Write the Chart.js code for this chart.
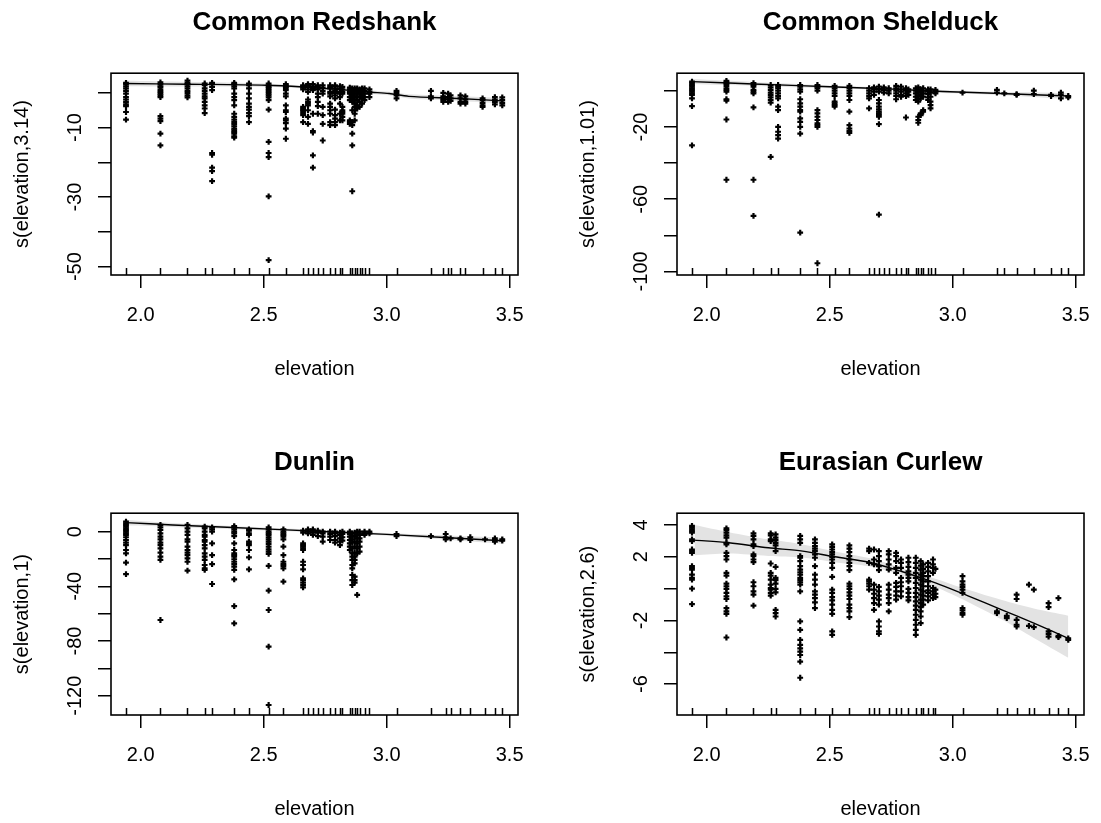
<!DOCTYPE html>
<html><head><meta charset="utf-8">
<script src="https://cdn.jsdelivr.net/npm/chart.js@4.4.1/dist/chart.umd.min.js"></script>
<style>
html,body{margin:0;padding:0;background:#fff;overflow:hidden;}
#wrap{position:relative;width:1101px;height:823px;overflow:hidden;background:#fff;}
#wrap canvas{position:absolute;}
</style></head><body><div id="wrap">
<canvas id="c1" width="550" height="440" style="left:0;top:0"></canvas>
<canvas id="c2" width="550" height="440" style="left:566px;top:0"></canvas>
<canvas id="c3" width="550" height="440" style="left:0;top:440px"></canvas>
<canvas id="c4" width="550" height="440" style="left:566px;top:440px"></canvas>
</div>
<script>
// ---------- shared ----------
const xTicks = [2.0, 2.5, 3.0, 3.5];
const xLabel = 'elevation';

// ---------- Common Redshank ----------
const redshankTitle = 'Common Redshank';
const redshankYLabel = 's(elevation,3.14)';
const redshankYTicks = [0, -10, -20, -30, -40, -50];
const redshankYLabelled = [-10, -30, -50];
const redshankPoints = [
  [1.94, [2.9, 2.5, 1.9, 1.3, 0.6, -0.2, -1.2, -1.9, -2.6, -3.3, -3.8, -5.5, -7.7]],
  [2.08, [3.0, 2.5, 1.9, 1.5, 0.8, 0.3, -0.2, -0.7, -1.2, -6.7, -7.4, -8.1, -11.7, -15.1]],
  [2.19, [3.5, 2.9, 2.5, 1.9, 1.3, 0.6, 0.0, -0.7, -1.3]],
  [2.26, [2.7, 2.2, 1.3, 0.6, -0.2, -1.0, -1.6, -2.6, -3.6, -4.5, -5.8]],
  [2.29, [2.9, 2.5, 1.7, 0.8, -17.3, -17.8, -21.5, -22.5, -25.4]],
  [2.38, [2.9, 2.5, 1.9, 1.3, -0.2, -1.2, -2.1, -3.6, -6.0, -6.9, -7.7, -8.4, -9.0, -9.6, -10.3, -10.8, -11.3, -11.7, -12.5, -12.9]],
  [2.44, [2.7, 2.2, 1.3, -0.2, -1.6, -3.1, -4.0, -4.8, -5.8, -6.7, -8.4]],
  [2.52, [2.7, 2.2, 1.7, 1.3, 0.8, 0.3, -0.2, -0.7, -1.3, -2.1, -4.8, -14.1, -17.3, -18.5, -29.8, -48.1]],
  [2.59, [2.5, 2.1, 1.7, 1.3, 0.8, -0.2, -1.0, -3.6, -5.0, -5.5, -7.4, -7.9, -8.7, -10.3, -13.2]],
  [2.66, [2.2, 1.9, 1.5, 1.0, -4.0, -4.5, -4.8, -5.2, -5.8, -6.4, -8.4]],
  [2.68, [2.5, 2.2, 1.7, 1.0, 0.3, -1.9, -2.6, -3.1, -3.6, -5.0, -6.9, -8.9]],
  [2.70, [2.5, 1.9, 1.3, 0.8, -6.0, -11.0, -11.4, -18.0, -21.5]],
  [2.72, [2.2, 1.7, 1.0, -0.2, -1.2, -2.6, -3.8, -6.0]],
  [2.74, [2.2, 1.5, 0.6, -0.2, -4.0, -6.4, -8.9, -13.7]],
  [2.77, [2.2, 1.7, 1.3, 0.3, -0.2, -1.0, -3.1, -4.0, -5.0, -6.0, -8.4, -9.3]],
  [2.79, [2.2, 1.9, 1.3, 0.6, 0.0, -0.7, -1.6, -4.8, -6.4, -7.4, -8.4, -9.3]],
  [2.81, [1.9, 1.3, 0.3, -0.2, -1.2, -3.1, -6.0, -7.9]],
  [2.82, [1.7, 1.0, 0.3, -0.2, -4.0, -5.0, -5.5, -6.0, -6.9, -7.9]],
  [2.85, [1.5, 1.0, 0.3, -0.2, -1.2, -2.1, -7.9, -8.4, -8.9]],
  [2.86, [1.3, 0.8, 0.3, -0.2, -0.7, -1.6, -2.6, -5.0, -8.4, -9.3, -11.7, -15.1, -28.3]],
  [2.87, [1.3, 0.8, -0.2, -1.2, -2.1, -3.1, -4.0, -5.0, -6.0, -7.9]],
  [2.88, [1.3, 0.6, -0.2, -1.0, -2.1, -3.6, -4.5]],
  [2.89, [1.0, 0.3, -0.2, -1.2, -2.6, -4.0]],
  [2.90, [1.3, 0.8, 0.0, -0.7, -1.6, -3.1]],
  [2.91, [1.3, 0.6, -0.2, -1.2, -2.1]],
  [2.93, [1.0, 0.3, -0.2, -1.2]],
  [3.04, [0.6, 0.0, -0.7, -1.6]],
  [3.18, [0.6, -1.0, -1.6]],
  [3.23, [0.0, -1.0, -1.6, -2.1, -2.6]],
  [3.25, [-0.2, -1.2, -1.9, -2.6]],
  [3.26, [-0.7, -1.6, -2.3]],
  [3.30, [-0.7, -1.6, -2.6, -3.1]],
  [3.32, [-1.0, -1.9, -2.6, -3.1]],
  [3.39, [-1.6, -2.1, -2.9, -3.6, -4.0]],
  [3.44, [-1.2, -1.9, -2.6, -3.3]],
  [3.47, [-1.3, -2.1, -2.9, -3.6]]
];
const redshankFitX = [1.94, 2.19, 2.51, 2.66, 2.80, 2.94, 3.01, 3.09, 3.29, 3.47];
const redshankFitY = [2.7, 2.5, 2.2, 1.7, 1.0, 0.2, -0.2, -1.0, -1.6, -2.3];
const redshankBandUpper = [3.5, 3.2, 2.7, 2.1, 1.4, 0.7, 0.3, -0.4, -0.9, -1.5];
const redshankBandLower = [1.9, 1.8, 1.7, 1.3, 0.6, -0.3, -0.7, -1.6, -2.3, -3.1];

// ---------- Common Shelduck ----------
const shelduckTitle = 'Common Shelduck';
const shelduckYLabel = 's(elevation,1.01)';
const shelduckYTicks = [0, -20, -40, -60, -80, -100];
const shelduckYLabelled = [-20, -60, -100];
const shelduckPoints = [
  [1.94, [5.2, 4.3, 3.3, 2.4, 1.5, 0.6, -0.4, -1.3, -2.2, -4.1, -8.4, -30.1]],
  [2.08, [5.6, 4.6, 3.9, 2.8, 1.5, 0.6, -0.4, -4.6, -5.4, -15.8, -49.2]],
  [2.19, [4.3, 3.3, 2.4, 0.6, -0.4, -1.3, -9.1, -49.2, -69.2]],
  [2.26, [3.3, 2.0, 0.6, -0.9, -2.2, -3.5, -5.0, -6.5, -36.5]],
  [2.29, [3.3, 2.4, 1.5, 0.2, -1.3, -2.8, -4.1, -8.7, -10.6, -19.9, -22.6, -24.5, -26.4]],
  [2.38, [3.3, 2.4, 0.9, -0.4, -4.6, -6.9, -8.7, -10.6, -11.5, -15.2, -17.1, -19.9, -23.6, -78.5]],
  [2.45, [3.3, 2.4, 1.5, 0.2, -10.6, -12.4, -14.3, -16.1, -18.0, -18.9, -19.9, -95.5]],
  [2.52, [2.8, 1.5, 0.2, -1.3, -2.8, -5.9, -6.9, -7.8, -8.7]],
  [2.58, [2.8, 1.5, 0.2, -1.3, -2.8, -5.0, -11.5, -18.9, -20.8, -22.1, -23.2]],
  [2.66, [1.5, 0.2, -1.3, -2.8, -4.1, -9.7]],
  [2.68, [2.0, 0.9, -0.4, -2.2]],
  [2.70, [2.4, 0.9, -0.4, -5.0, -6.9, -8.7, -10.2, -11.5, -12.4, -13.4, -14.3, -18.4, -68.5]],
  [2.72, [2.0, 0.6, -0.9]],
  [2.74, [1.5, 0.2, -1.3]],
  [2.77, [2.8, 1.5, 0.2, -1.3, -2.8, -4.6]],
  [2.79, [2.4, 0.9, -0.4, -2.2, -3.2]],
  [2.81, [1.5, 0.2, -1.3, -2.8, -14.7]],
  [2.82, [0.9, -0.4, -2.2]],
  [2.85, [1.5, 0.2, -1.3, -3.2, -5.0]],
  [2.86, [2.0, 0.6, -0.9, -2.8, -4.6, -5.9, -14.3, -16.1, -17.6]],
  [2.87, [0.9, -0.4, -2.2, -4.1, -12.4, -13.4]],
  [2.88, [1.5, 0.2, -1.3, -3.2, -10.6, -11.5]],
  [2.90, [0.9, -0.4, -1.7, -3.5, -5.0]],
  [2.91, [0.9, -0.9, -3.2, -5.9, -7.8, -9.7]],
  [2.93, [0.6, -0.4, -1.3]],
  [3.04, [-0.9]],
  [3.18, [0.6, -0.9]],
  [3.21, [-1.3]],
  [3.26, [-1.7, -2.2]],
  [3.33, [0.2, -1.7]],
  [3.40, [-2.2, -2.8]],
  [3.44, [-0.9, -2.2, -4.1]],
  [3.47, [-2.8, -3.5]]
];
const shelduckFitX = [1.94, 2.19, 2.50, 2.78, 2.96, 3.14, 3.47];
const shelduckFitY = [5.2, 3.9, 2.3, 0.9, -0.3, -1.1, -2.8];
const shelduckBandUpper = [6.6, 5.0, 3.1, 1.6, 0.5, -0.3, -1.2];
const shelduckBandLower = [3.8, 2.8, 1.5, 0.2, -1.1, -1.9, -4.4];

// ---------- Dunlin ----------
const dunlinTitle = 'Dunlin';
const dunlinYLabel = 's(elevation,1)';
const dunlinYTicks = [0, -20, -40, -60, -80, -100, -120];
const dunlinYLabelled = [0, -40, -80, -120];
const dunlinPoints = [
  [1.94, [7.3, 6.1, 4.9, 3.7, 2.4, 1.2, 0.0, -1.2, -2.4, -4.1, -6.1, -8.0, -9.8, -13.4, -15.9, -22.7, -31.0]],
  [2.08, [4.9, 3.2, 1.2, -1.2, -3.7, -5.6, -8.0, -9.8, -12.2, -15.4, -18.3, -20.7, -64.6]],
  [2.19, [4.9, 2.4, 0.0, -2.4, -5.6, -7.3, -11.0, -13.4, -15.4, -17.1, -19.5, -22.0, -28.5]],
  [2.26, [3.7, 2.4, 0.0, -2.4, -3.7, -6.1, -7.3, -9.8, -12.2, -15.9, -18.3, -20.7, -24.4, -26.8, -28.0]],
  [2.29, [3.2, 1.7, 0.0, -8.5, -17.1, -23.7, -38.3]],
  [2.38, [4.1, 3.2, 1.7, 0.0, -1.2, -3.2, -8.5, -13.4, -15.9, -17.1, -18.3, -20.2, -22.0, -23.7, -25.6, -28.0, -34.9, -54.4, -67.1]],
  [2.44, [1.7, 0.7, -1.2, -2.4, -7.3, -8.5, -9.8, -13.4, -18.8, -27.6]],
  [2.52, [3.2, 1.7, 0.0, -1.2, -2.4, -4.1, -5.6, -7.3, -9.0, -11.0, -12.9, -14.6, -16.3, -25.1, -43.2, -57.3, -84.1, -126.8]],
  [2.58, [1.7, 0.0, -1.2, -2.4, -3.7, -5.6, -11.0, -17.1, -22.0, -23.7, -25.1, -26.8, -36.6]],
  [2.66, [0.7, -0.7, -8.5, -9.8, -11.0, -12.2, -13.4, -22.0, -24.4, -27.6, -34.1, -35.4, -37.3, -39.0, -40.7]],
  [2.68, [1.7, 0.0, -1.2]],
  [2.70, [1.7, 0.7, -0.7, -2.4]],
  [2.72, [0.7, -0.7, -3.2]],
  [2.74, [0.0, -1.2, -3.7, -7.3]],
  [2.77, [0.0, -1.7, -3.7, -6.1]],
  [2.79, [0.0, -1.2, -3.2, -6.1, -8.0]],
  [2.81, [-0.7, -2.4, -4.9, -7.3, -9.8]],
  [2.82, [0.0, -1.7, -4.1, -6.6]],
  [2.85, [0.0, -1.7, -3.7, -6.1, -8.5, -11.0, -13.4]],
  [2.86, [-1.2, -3.2, -5.6, -8.0, -12.2, -15.9, -18.3, -20.7, -24.4, -26.8, -31.7, -35.4, -39.0]],
  [2.87, [-0.7, -3.7, -7.3, -11.0, -15.4, -18.3, -20.7, -23.2, -32.9, -35.4, -37.3]],
  [2.88, [0.0, -2.4, -4.9, -8.5, -12.2, -15.9, -46.3]],
  [2.89, [0.0, -2.4, -4.9, -7.3, -11.0, -14.6]],
  [2.91, [0.0, -1.2, -2.4]],
  [2.93, [0.0, -1.2]],
  [3.04, [-1.7, -3.2]],
  [3.18, [-3.2]],
  [3.24, [-1.7, -4.1, -5.6]],
  [3.26, [-4.9]],
  [3.30, [-4.9, -5.6]],
  [3.34, [-4.1, -6.1]],
  [3.40, [-5.6]],
  [3.44, [-4.9, -6.1, -7.3]],
  [3.47, [-5.6, -6.6]]
];
const dunlinFitX = [1.94, 2.13, 2.57, 3.00, 3.47];
const dunlinFitY = [6.6, 4.9, 1.5, -2.0, -6.6];
const dunlinBandUpper = [8.6, 6.4, 2.5, -1.0, -4.4];
const dunlinBandLower = [4.6, 3.4, 0.5, -3.0, -8.8];

// ---------- Eurasian Curlew ----------
const curlewTitle = 'Eurasian Curlew';
const curlewYLabel = 's(elevation,2.6)';
const curlewYTicks = [4, 2, 0, -2, -4, -6];
const curlewYLabelled = [4, 2, -2, -6];
const curlewPoints = [
  [1.94, [3.94, 3.83, 3.73, 3.62, 3.52, 3.09, 2.99, 2.46, 2.36, 2.25, 1.41, 1.31, 1.2, 0.88, 0.67, 0.57, 0, -0.97]],
  [2.08, [3.79, 3.68, 3.52, 3.35, 3.2, 2.88, 2.78, 2.25, 2.04, 1.83, 0.99, 0.82, 0.32, 0.15, -0.02, -0.27, -0.48, -0.65, -1.22, -1.43, -1.58, -3.07]],
  [2.19, [3.47, 3.31, 3.09, 2.78, 2.67, 2.15, 2.04, 1.83, 1.66, 0.4, 0.15, -0.17, -0.38, -1.07]],
  [2.26, [3.47, 3.35, 3.09, 2.99, 1.58, 0.99, 0.82, 0.57, 0.25, 0.04, -0.06, -0.27, -0.44]],
  [2.28, [3.41, 3.2, 3.05, 2.88, 2.72, 2.36, 1.37, 0.67, 0.53, 0.32, -0.02, -0.23, -1.33, -1.54, -1.75]],
  [2.38, [3.31, 3.09, 2.88, 2.04, 1.94, 1.73, 1.41, 1.2, 1.03, 0.88, 0.67, 0.53, 0.4, 0.25, -0.17, -2.06, -2.59, -3.22, -3.54, -3.75, -3.96, -4.17, -4.59, -5.6]],
  [2.44, [3.09, 2.88, 2.67, 2.51, 2.36, 2.15, 1.94, 1.41, 0.88, 0.57, 0.25, -0.17, -0.38, -0.59, -0.86, -1.22]],
  [2.51, [2.78, 2.63, 2.46, 2.29, 2.15, 2.0, 1.83, 1.62, 1.31, 0.74, -0.06, -0.27, -0.53, -0.74, -1.01, -1.33, -1.58, -2.69, -2.91]],
  [2.58, [2.72, 2.51, 2.29, 2.04, 1.83, 1.62, 1.41, 1.16, 0.32, 0.15, -0.02, -0.23, -0.44, -0.65, -1.01, -1.22, -1.43, -1.79]],
  [2.66, [2.51, 2.36, 1.62, 0.57, 0.46, 0.32, 0.15, -0.06]],
  [2.68, [2.46, 1.83, 1.52, 0.25, -0.06, -0.32, -0.59, -0.91, -1.33]],
  [2.70, [2.36, 2.04, 1.73, 1.41, 1.16, 0.11, -0.17, -0.44, -0.69, -1.01, -2.06, -2.38, -2.69, -2.84]],
  [2.74, [2.36, 2.15, 1.83, 1.52, 1.2, 0.25, -0.06, -0.38, -0.59, -0.91, -1.43]],
  [2.77, [2.25, 2.04, 1.73, 1.31, 0.99, 0.36, 0.11, -0.17, -0.44, -0.69]],
  [2.79, [1.83, 1.62, 1.31, 0.67, 0.4, 0.15, -0.17, -0.48]],
  [2.82, [1.94, 1.66, 1.37, 1.09, 0.88, 0.67, 0.46, -0.02, -0.27, -0.53, -0.74]],
  [2.85, [1.94, 1.62, 1.31, 0.99, 0.67, 0.36, 0.04, -0.27, -0.53, -0.8, -1.07, -1.33, -1.64, -1.96, -2.27, -2.59, -2.91]],
  [2.87, [1.73, 1.45, 1.2, 0.88, 0.57, 0.25, -0.06, -0.38, -0.69, -0.91, -1.16, -1.43, -1.75, -2.17]],
  [2.88, [1.52, 1.24, 0.99, 0.78, 0.46, 0.15, -0.17, -0.44, -0.69, -1.01]],
  [2.90, [1.62, 1.37, 1.09, 0.78, 0.46, 0.15, -0.11, -0.27, -0.48, -0.74]],
  [2.92, [1.83, 1.52, 1.31, 0.99, 0.04, -0.17, -0.38, -0.59]],
  [2.93, [1.24, -0.06, -0.32, -0.53]],
  [3.04, [0.78, 0.46, 0.25, 0.11, -0.06, -0.27, -1.22, -1.37, -1.54, -1.64]],
  [3.18, [-1.43, -1.54]],
  [3.22, [-1.71, -1.85]],
  [3.26, [-0.38, -0.65, -1.96, -2.27, -2.38]],
  [3.31, [0.25, -2.34]],
  [3.33, [-0.06, -2.42]],
  [3.39, [-0.91, -1.16, -2.69, -2.84, -3.01]],
  [3.43, [-0.59, -2.97, -3.05]],
  [3.47, [-3.12, -3.22]]
];
const curlewFitX = [1.95, 2.09, 2.25, 2.39, 2.52, 2.66, 2.79, 2.93, 3.06, 3.20, 3.33, 3.47];
const curlewFitY = [3.05, 2.88, 2.57, 2.36, 2.0, 1.66, 1.09, 0.36, -0.44, -1.33, -2.17, -3.12];
const curlewBandUpper = [4.0, 3.55, 3.1, 2.78, 2.34, 1.92, 1.32, 0.62, -0.06, -0.72, -1.25, -1.7];
const curlewBandLower = [2.1, 2.2, 2.05, 1.95, 1.66, 1.4, 0.86, 0.1, -0.82, -1.94, -3.1, -4.35];

// ---------- drawing ----------
const FONT = '"Liberation Sans", Arial, Helvetica, sans-serif';
const X_MIN = 1.879, X_MAX = 3.534;

const panels = [
  {id: 'c1', title: redshankTitle, yLabel: redshankYLabel, yMin: -52.4, yMax: 5.66, yTicks: redshankYTicks, yLab: redshankYLabelled,
   pts: redshankPoints, fitX: redshankFitX, fitY: redshankFitY, up: redshankBandUpper, lo: redshankBandLower},
  {id: 'c2', title: shelduckTitle, yLabel: shelduckYLabel, yMin: -102.0, yMax: 9.85, yTicks: shelduckYTicks, yLab: shelduckYLabelled,
   pts: shelduckPoints, fitX: shelduckFitX, fitY: shelduckFitY, up: shelduckBandUpper, lo: shelduckBandLower},
  {id: 'c3', title: dunlinTitle, yLabel: dunlinYLabel, yMin: -134.1, yMax: 13.5, yTicks: dunlinYTicks, yLab: dunlinYLabelled,
   pts: dunlinPoints, fitX: dunlinFitX, fitY: dunlinFitY, up: dunlinBandUpper, lo: dunlinBandLower},
  {id: 'c4', title: curlewTitle, yLabel: curlewYLabel, yMin: -7.94, yMax: 4.74, yTicks: curlewYTicks, yLab: curlewYLabelled,
   pts: curlewPoints, fitX: curlewFitX, fitY: curlewFitY, up: curlewBandUpper, lo: curlewBandLower}
];

const meas = document.createElement('canvas').getContext('2d');
meas.font = '20px ' + FONT;

function makePanel(p) {
  const points = [];
  p.pts.forEach(([x, ys]) => ys.forEach(y => points.push({x: x, y: y})));
  const rug = p.pts.map(c => c[0]);
  const fit = p.fitX.map((x, i) => ({x: x, y: p.fitY[i]}));
  const up = p.fitX.map((x, i) => ({x: x, y: p.up[i]}));
  const lo = p.fitX.map((x, i) => ({x: x, y: p.lo[i]}));
  const widest = Math.max(...p.yLab.map(v => meas.measureText(String(v)).width));
  const yPad = Math.max(0, 22.5 - widest / 2);

  const framePlugin = {
    id: 'frame',
    afterDraw(chart) {
      const {ctx, chartArea: a, scales: {x}} = chart;
      ctx.save();
      ctx.strokeStyle = '#000';
      ctx.lineWidth = 1.5;
      ctx.beginPath();
      rug.forEach(v => {
        const px = Math.round(x.getPixelForValue(v)) + 0.5;
        ctx.moveTo(px, a.bottom);
        ctx.lineTo(px, a.bottom - 7);
      });
      ctx.stroke();
      ctx.lineWidth = 1.6;
      ctx.strokeRect(a.left, a.top, a.right - a.left, a.bottom - a.top);
      ctx.restore();
    }
  };

  new Chart(document.getElementById(p.id), {
    type: 'scatter',
    data: {
      datasets: [
        {type: 'line', data: up, borderColor: 'rgba(0,0,0,0)', borderWidth: 0, pointRadius: 0, fill: false, order: 3, tension: 0.3},
        {type: 'line', data: lo, borderColor: 'rgba(0,0,0,0)', borderWidth: 0, pointRadius: 0, fill: '-1', backgroundColor: '#e3e3e3', order: 3, tension: 0.3},
        {type: 'scatter', data: points, pointStyle: 'cross', pointRadius: 2.9, pointHoverRadius: 2.9, borderColor: '#000', backgroundColor: '#000', borderWidth: 2.2, order: 2},
        {type: 'line', data: fit, borderColor: '#000', borderWidth: 1.4, pointRadius: 0, fill: false, tension: 0.3, order: 1}
      ]
    },
    options: {
      responsive: false,
      animation: false,
      devicePixelRatio: 1,
      events: [],
      layout: {padding: {left: 0, right: 32, top: 0, bottom: 0}},
      plugins: {
        legend: {display: false},
        tooltip: {enabled: false},
        title: {
          display: true, text: p.title, fullSize: false, color: '#000',
          font: {family: FONT, size: 26, weight: 'bold', lineHeight: 1.2},
          padding: {top: 7, bottom: 35}
        }
      },
      scales: {
        x: {
          type: 'linear', position: 'bottom', min: X_MIN, max: X_MAX,
          afterBuildTicks: s => { s.ticks = xTicks.map(v => ({value: v})); },
          afterFit: s => { s.height = 165; },
          grid: {drawOnChartArea: false, drawTicks: true, tickLength: 13, color: '#000', lineWidth: 1.5},
          border: {display: false},
          ticks: {color: '#000', font: {family: FONT, size: 20, lineHeight: 1.2}, padding: 15, maxRotation: 0, minRotation: 0, autoSkip: false,
                  callback: v => Number(v).toFixed(1)},
          title: {display: true, text: xLabel, color: '#000', font: {family: FONT, size: 20, lineHeight: 1.2}, padding: {top: 0, bottom: 59}}
        },
        y: {
          type: 'linear', position: 'left', min: p.yMin, max: p.yMax,
          afterBuildTicks: s => { s.ticks = p.yTicks.map(v => ({value: v})); },
          afterFit: s => { s.width = 111; },
          grid: {drawOnChartArea: false, drawTicks: true, tickLength: 13, color: '#000', lineWidth: 1.5},
          border: {display: false},
          ticks: {color: '#000', font: {family: FONT, size: 20, lineHeight: 1.2}, padding: yPad, minRotation: 90, maxRotation: 90,
                  crossAlign: 'center', autoSkip: false,
                  callback: v => p.yLab.includes(v) ? String(v) : ''},
          title: {display: true, text: p.yLabel, color: '#000', font: {family: FONT, size: 20, lineHeight: 1.2}, padding: {top: 10.7, bottom: 0}}
        }
      }
    },
    plugins: [framePlugin]
  });
}

panels.forEach(makePanel);
</script>
</body></html>
